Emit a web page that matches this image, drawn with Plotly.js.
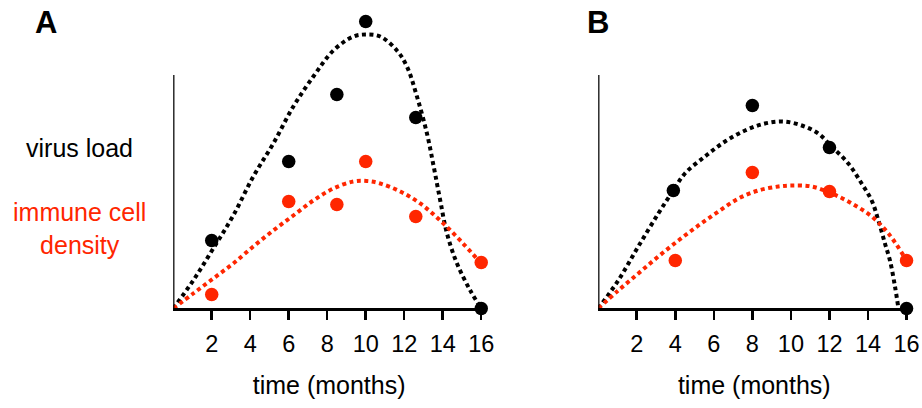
<!DOCTYPE html>
<html>
<head>
<meta charset="utf-8">
<script src="https://cdn.plot.ly/plotly-3.0.1.min.js"></script>
<style>html,body{margin:0;padding:0;background:#fff;}#chart{width:922px;height:408px;}</style>
</head>
<body>
<div id="chart"></div>
<script>
// ---- Data ----
var tickVals = [2, 4, 6, 8, 10, 12, 14, 16];
var tickText = ["2", "4", "6", "8", "10", "12", "14", "16"];

// Panel A observations
var aVirusX = [2, 6, 8.5, 10, 12.6, 16];
var aVirusY = [68, 147, 214, 287, 191, 0];
var aImmuneX = [2, 6, 8.5, 10, 12.6, 16];
var aImmuneY = [14, 107, 104, 147, 92, 46];

// Panel A fitted curves
var aVirusCurveX = [0, 1.04, 2.08, 3.12, 4.16, 5.2, 6.24, 7.28, 8.32, 9.36, 10.02, 10.75, 11.62, 12.14, 12.66, 13.18, 13.53, 13.87, 14.22, 14.74, 15.43, 16.0];
var aVirusCurveY = [0, 28, 60, 93, 132, 165, 202, 232, 258, 272, 274, 272, 258, 242, 212, 175, 142, 108, 75, 45, 18, 0];
var aImmuneCurveX = [0, 1.04, 2.08, 3.12, 4.16, 5.2, 6.24, 7.28, 8.32, 9.36, 10.05, 10.75, 11.79, 12.83, 13.87, 14.91, 16.0];
var aImmuneCurveY = [0, 15, 30, 45, 62, 78, 93, 108, 120, 127, 127.5, 125, 117, 105, 88, 68, 45];

// Panel B observations
var bVirusX = [3.9, 8, 12, 16];
var bVirusY = [118, 203, 161, 0];
var bImmuneX = [4, 8, 12, 16];
var bImmuneY = [48, 136, 117, 48];

// Panel B fitted curves
var bVirusCurveX = [0, 1.04, 2.08, 3.12, 3.86, 4.5, 5.54, 6.58, 7.62, 8.65, 9.6, 10.56, 11.42, 12.11, 12.98, 13.67, 14.19, 14.54, 14.88, 15.14, 15.4, 15.58];
var bVirusCurveY = [0, 28, 62, 95, 117, 135, 152, 167, 178, 185, 187, 183, 175, 162, 145, 125, 108, 88, 65, 48, 22, 0];
var bImmuneCurveX = [0, 1.04, 2.08, 3.12, 4.16, 5.2, 6.24, 7.28, 8.31, 9.35, 10.04, 11.08, 12.12, 13.16, 14.19, 15.06, 16.0];
var bImmuneCurveY = [0, 18, 35, 52, 68, 83, 97, 110, 118, 122, 123, 122, 115, 105, 92, 75, 48];

// ---- Styles ----
var BLACK = "#000000";
var RED = "#ff2600";
var FONT = "Liberation Sans, Arial, Helvetica, sans-serif";
var Y_AXIS_TOP = 233.5;   // height of the drawn vertical axis line

function curve(x, y, color, xa, ya) {
  return {x: x, y: y, xaxis: xa, yaxis: ya, type: "scatter", mode: "lines",
    line: {color: color, width: 4, dash: "4px,3.5px", shape: "spline", smoothing: 1},
    hoverinfo: "skip", cliponaxis: false};
}
function pts(x, y, color, xa, ya) {
  return {x: x, y: y, xaxis: xa, yaxis: ya, type: "scatter", mode: "markers",
    marker: {color: color, size: 13.5}, cliponaxis: false};
}

var data = [
  curve(aVirusCurveX, aVirusCurveY, BLACK, "x", "y"),
  curve(aImmuneCurveX, aImmuneCurveY, RED, "x", "y"),
  pts(aVirusX, aVirusY, BLACK, "x", "y"),
  pts(aImmuneX, aImmuneY, RED, "x", "y"),
  curve(bVirusCurveX, bVirusCurveY, BLACK, "x2", "y2"),
  curve(bImmuneCurveX, bImmuneCurveY, RED, "x2", "y2"),
  pts(bVirusX, bVirusY, BLACK, "x2", "y2"),
  pts(bImmuneX, bImmuneY, RED, "x2", "y2")
];

function xAxis(domain, anchor) {
  return {domain: domain, anchor: anchor, range: [0, 16.2], showgrid: false, zeroline: false,
    showline: true, linecolor: BLACK, linewidth: 2.5,
    ticks: "outside", ticklen: 9, tickwidth: 2.5, tickcolor: BLACK,
    tickvals: tickVals, ticktext: tickText, ticklabelstandoff: 4,
    tickfont: {family: FONT, size: 23.5, color: BLACK},
    title: {text: "time (months)", font: {family: FONT, size: 25, color: BLACK}, standoff: 21}};
}
function yAxis(anchor) {
  return {domain: [0.2439, 1], anchor: anchor, range: [0, 308.5], visible: false, showgrid: false, zeroline: false};
}

var layout = {
  width: 922, height: 408,
  margin: {l: 0, r: 0, t: 0, b: 0},
  paper_bgcolor: "#fff", plot_bgcolor: "rgba(0,0,0,0)",
  showlegend: false,
  font: {family: FONT, color: BLACK},
  xaxis: xAxis([0.18785, 0.52614], "y"),
  yaxis: yAxis("x"),
  xaxis2: xAxis([0.64881, 0.98742], "y2"),
  yaxis2: yAxis("x2"),
  shapes: [
    {type: "line", xref: "x", yref: "y", x0: 0, x1: 0, y0: 0, y1: Y_AXIS_TOP, line: {color: BLACK, width: 2.5}},
    {type: "line", xref: "x2", yref: "y2", x0: 0, x1: 0, y0: 0, y1: Y_AXIS_TOP, line: {color: BLACK, width: 2.5}}
  ],
  annotations: [
    {text: "<b>A</b>", xref: "paper", yref: "paper", x: 46 / 922, y: 1 - 22 / 408, showarrow: false,
      xanchor: "center", yanchor: "middle", font: {family: FONT, size: 31, color: BLACK}},
    {text: "<b>B</b>", xref: "paper", yref: "paper", x: 598 / 922, y: 1 - 22 / 408, showarrow: false,
      xanchor: "center", yanchor: "middle", font: {family: FONT, size: 31, color: BLACK}},
    {text: "virus load", xref: "paper", yref: "paper", x: 79 / 922, y: 1 - 148 / 408, showarrow: false,
      xanchor: "center", yanchor: "middle", font: {family: FONT, size: 25, color: BLACK}},
    {text: "immune cell<br>density", xref: "paper", yref: "paper", x: 79 / 922, y: 1 - 228 / 408, showarrow: false,
      xanchor: "center", yanchor: "middle", align: "center", font: {family: FONT, size: 25, color: RED}}
  ]
};

Plotly.newPlot("chart", data, layout, {displayModeBar: false, staticPlot: true});
</script>
</body>
</html>
